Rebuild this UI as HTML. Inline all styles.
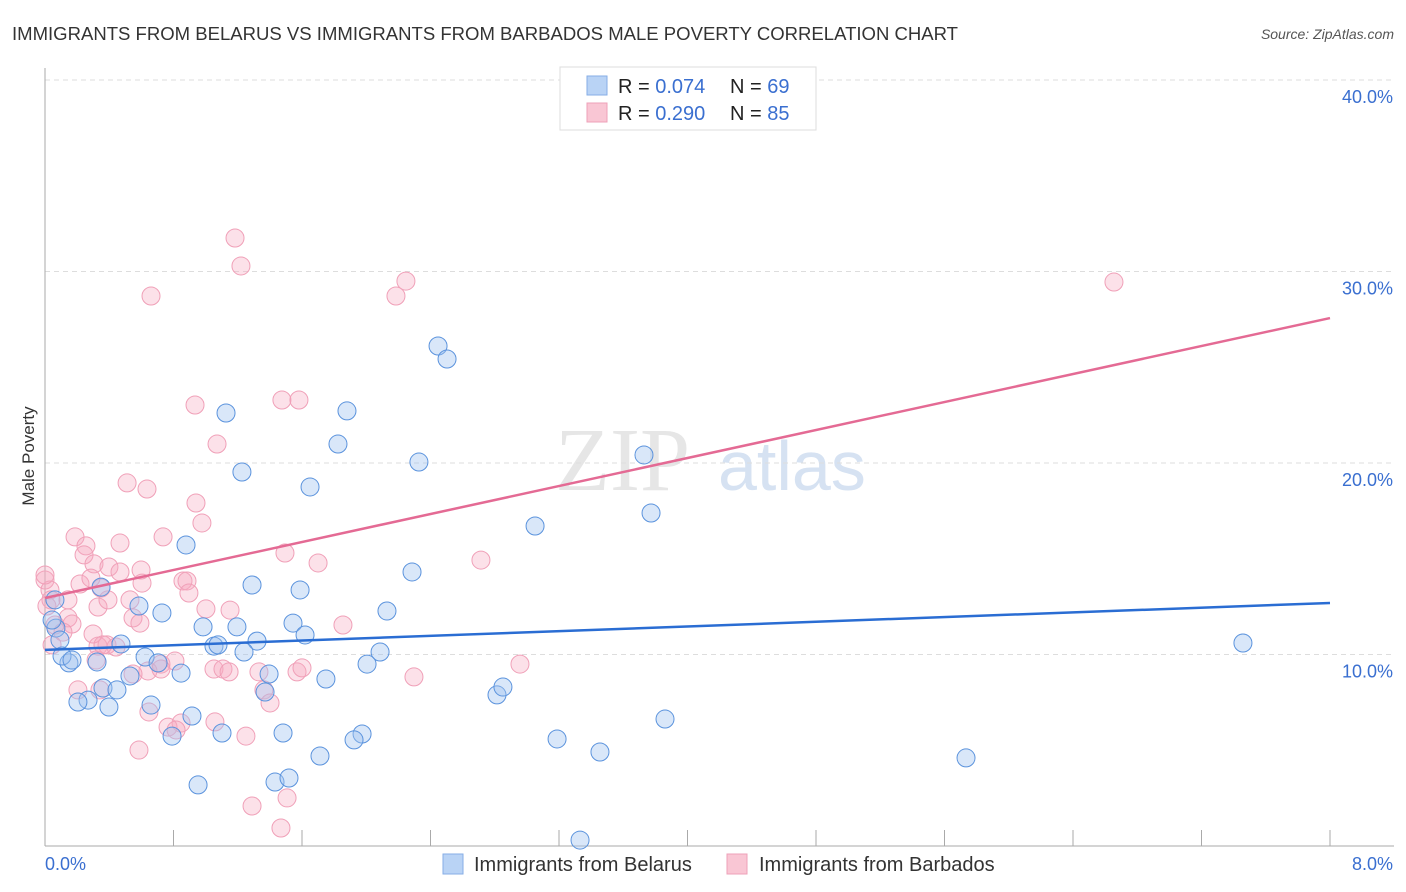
<!DOCTYPE html>
<html><head><meta charset="utf-8"><style>
body{margin:0;background:#fff;font-family:"Liberation Sans",sans-serif;}
#wrap{position:relative;width:1406px;height:892px;overflow:hidden}
</style></head><body>
<div id="wrap">
<svg id="svg" width="1406" height="892" xmlns="http://www.w3.org/2000/svg">
<text x="12" y="40" font-size="18" fill="#333" textLength="946" lengthAdjust="spacingAndGlyphs">IMMIGRANTS FROM BELARUS VS IMMIGRANTS FROM BARBADOS MALE POVERTY CORRELATION CHART</text>
<text x="1394" y="39" font-size="14" fill="#555" font-style="italic" text-anchor="end">Source: ZipAtlas.com</text>
<text x="34" y="456" font-size="17" fill="#333" text-anchor="middle" transform="rotate(-90 34 456)">Male Poverty</text>
<text x="555" y="490" font-size="90" fill="#e6e6e6" font-family="Liberation Serif">ZIP</text>
<text x="718" y="490" font-size="70" fill="#d6e2f2">atlas</text>
<g id="grid"></g><g id="pts"></g><g id="trend"></g>
<g>
<rect x="560" y="67" width="256" height="63" fill="#fff" stroke="#ddd"/>
<rect x="587" y="76" width="20" height="19" fill="#b9d3f5" stroke="#86aee6"/>
<rect x="587" y="103" width="20" height="19" fill="#f9c6d4" stroke="#eea0b8"/>
<text x="618" y="93" font-size="20" fill="#222">R = <tspan fill="#3a6fd0">0.074</tspan></text>
<text x="730" y="93" font-size="20" fill="#222">N = <tspan fill="#3a6fd0">69</tspan></text>
<text x="618" y="120" font-size="20" fill="#222">R = <tspan fill="#3a6fd0">0.290</tspan></text>
<text x="730" y="120" font-size="20" fill="#222">N = <tspan fill="#3a6fd0">85</tspan></text>
</g>
<g>
<rect x="443" y="854" width="20" height="20" fill="#b9d3f5" stroke="#86aee6"/>
<text x="474" y="871" font-size="20" fill="#333">Immigrants from Belarus</text>
<rect x="727" y="854" width="20" height="20" fill="#f9c6d4" stroke="#eea0b8"/>
<text x="759" y="871" font-size="20" fill="#333">Immigrants from Barbados</text>
</g>
</svg></div>
<script>
const yTicks=[10,20,30,40];
const yTickLabels=["10.0%","20.0%","30.0%","40.0%"];
const xTickCount=10;
const xMin=0,xMax=8,yMin=0;
const belarusX=[];const belarusY=[];
const barbadosX=[];const barbadosY=[];
const belarusPx=[[438,346],[447,359],[226,413],[347,411],[338,444],[419,462],[242,472],[310,487],[644,455],[651,513],[535,526],[186,545],[252,585],[300,590],[412,572],[387,611],[139,606],[162,613],[101,587],[55,600],[56,628],[60,640],[237,627],[203,627],[293,623],[305,635],[257,641],[214,646],[218,645],[244,652],[380,652],[367,664],[145,657],[158,663],[97,662],[69,663],[62,656],[121,644],[181,673],[269,674],[326,679],[265,692],[130,676],[103,688],[117,690],[88,700],[78,702],[109,707],[151,705],[192,716],[497,695],[503,687],[665,719],[222,733],[283,733],[362,734],[354,740],[172,736],[557,739],[600,752],[320,756],[966,758],[1243,643],[198,785],[275,782],[289,778],[580,840],[72,660],[52,620]];
const barbadosPx=[[235,238],[241,266],[151,296],[396,296],[406,281],[1114,282],[195,405],[282,400],[299,400],[217,444],[127,483],[147,489],[196,503],[202,523],[75,537],[86,546],[120,543],[163,537],[84,555],[94,564],[109,567],[120,572],[141,570],[285,553],[318,563],[481,560],[45,580],[50,590],[51,600],[80,584],[101,588],[142,583],[183,581],[187,581],[189,593],[98,607],[108,600],[47,606],[230,610],[68,618],[343,625],[72,624],[63,632],[98,646],[107,645],[116,647],[96,660],[161,664],[175,661],[93,634],[133,618],[140,623],[55,625],[206,609],[214,669],[223,669],[229,672],[259,672],[297,672],[302,668],[414,677],[520,664],[148,671],[161,669],[133,674],[100,690],[78,690],[264,690],[270,703],[149,712],[181,723],[215,722],[168,727],[176,730],[246,736],[139,750],[252,806],[287,798],[281,828],[45,575],[68,600],[130,600],[103,645],[91,578],[52,645]];
belarusPx.forEach(p=>{belarusX.push(+((p[0]-45)*8/1285).toFixed(3));belarusY.push(+((846-p[1])/19.15).toFixed(2));});
barbadosPx.forEach(p=>{barbadosX.push(+((p[0]-45)*8/1285).toFixed(3));barbadosY.push(+((846-p[1])/19.15).toFixed(2));});
const belarusTrend=[10.24,12.69];
const barbadosTrend=[12.95,27.57];
const X=v=>45+(v-xMin)/(xMax-xMin)*1285;
const Y=v=>846-(v-yMin)*19.15;
const NS="http://www.w3.org/2000/svg";
function mk(t,a,p){const e=document.createElementNS(NS,t);for(const k in a)e.setAttribute(k,a[k]);p.appendChild(e);return e;}
const grid=document.getElementById('grid');
yTicks.forEach((t,i)=>{
 const l=mk('line',{x1:45,x2:1394,y1:Y(t),y2:Y(t),stroke:'#ddd','stroke-dasharray':'5,4'},grid);
 
 
 const tx=mk('text',{x:1393,y:Y(t)+23,'font-size':18,fill:'#3a6fd0','text-anchor':'end'},grid);
 tx.textContent=yTickLabels[i];
 
 
});
const ax=mk('line',{x1:45,x2:45,y1:68,y2:846,stroke:'#aaa'},grid);


const bx=mk('line',{x1:45,x2:1394,y1:846,y2:846,stroke:'#aaa'},grid);


for(let i=1;i<=xTickCount;i++){const v=xMin+(xMax-xMin)*i/xTickCount;
 const t=mk('line',{x1:X(v),x2:X(v),y1:830,y2:846,stroke:'#aaa'},grid);
 
 }
const xl0=mk('text',{x:45,y:870,'font-size':18,fill:'#3a6fd0'},grid);xl0.textContent='0.0%';


const xl1=mk('text',{x:1393,y:870,'font-size':18,fill:'#3a6fd0','text-anchor':'end'},grid);xl1.textContent='8.0%';


const pts=document.getElementById('pts');
barbadosX.forEach((x,i)=>{const c=mk('circle',{cx:X(x),cy:Y(barbadosY[i]),r:9,fill:'rgba(246,170,192,0.35)',stroke:'#f0a0b8','stroke-width':1},pts);
 
 });
belarusX.forEach((x,i)=>{const c=mk('circle',{cx:X(x),cy:Y(belarusY[i]),r:9,fill:'rgba(160,196,240,0.4)',stroke:'#5b93dd','stroke-width':1},pts);
 
 });
const tr=document.getElementById('trend');
const t1=mk('line',{x1:X(xMin),y1:Y(belarusTrend[0]),x2:X(xMax),y2:Y(belarusTrend[1]),stroke:'#2a6dd3','stroke-width':2.5},tr);


const t2=mk('line',{x1:X(xMin),y1:Y(barbadosTrend[0]),x2:X(xMax),y2:Y(barbadosTrend[1]),stroke:'#e46a94','stroke-width':2.5},tr);


</script>
</body></html>
